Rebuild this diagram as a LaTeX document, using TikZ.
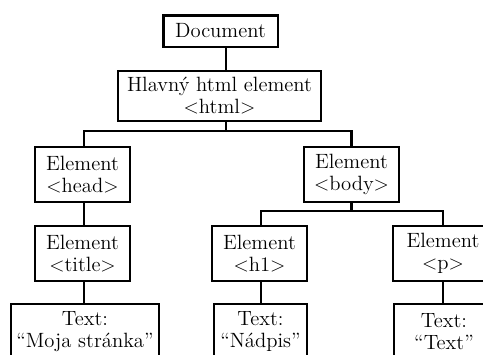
\documentclass[tikz,border=0pt]{standalone}
\begin{document}
\begin{tikzpicture}[x=0.6pt,y=-0.6pt,
  box/.style={draw, line width=1.5pt, align=center, inner sep=0pt,
    font=\fontsize{12.4}{13.2}\selectfont},
  conn/.style={line width=1.5pt}]
\useasboundingbox (0,0) rectangle (483,354);
\clip (0,0) rectangle (483,354);
\node[box, minimum width=114.5*0.6pt, minimum height=31.5*0.6pt] (doc) at (220.5,31) {Document};
\node[box, minimum width=203*0.6pt, minimum height=50*0.6pt] (html) at (219.5,96) {Hlavný html element\\$<$html$>$};
\node[box, minimum width=95*0.6pt, minimum height=55*0.6pt] (head) at (82.5,174.5) {Element\\$<$head$>$};
\node[box, minimum width=95*0.6pt, minimum height=55*0.6pt] (body) at (351.5,174.5) {Element\\$<$body$>$};
\node[box, minimum width=95*0.6pt, minimum height=55*0.6pt] (title) at (82.5,253.5) {Element\\$<$title$>$};
\node[box, minimum width=95*0.6pt, minimum height=55*0.6pt] (h1) at (259.5,253.5) {Element\\$<$h1$>$};
\node[box, minimum width=100*0.6pt, minimum height=55*0.6pt] (p) at (443,253.5) {Element\\$<$p$>$};
\node[box, minimum width=148*0.6pt, minimum height=55*0.6pt] (t1) at (85,331.5) {Text:\\``Moja stránka''};
\node[box, minimum width=93*0.6pt, minimum height=55*0.6pt] (t2) at (260.5,331.5) {Text:\\``Nádpis''};
\node[box, minimum width=100*0.6pt, minimum height=55*0.6pt] (t3) at (444,331.5) {Text:\\``Text''};
\coordinate (bar1) at (0,131);
\coordinate (bar2) at (0,211);
\coordinate (cx) at (226,0);
\draw[conn] (doc.south -| cx) -- (html.north -| cx);
\draw[conn] (html.south -| cx) -- (cx |- bar1);
\draw[conn] ([xshift=0.9pt]head.north) -- ([xshift=0.9pt]head.north |- bar1) -- (body.north |- bar1) -- (body.north);
\draw[conn] ([xshift=0.9pt]head.south) -- ([xshift=0.9pt]title.north);
\draw[conn] ([xshift=0.9pt]title.south) -- ([xshift=0.9pt]t1.north -| title.south);
\draw[conn] (body.south) -- (body.south |- bar2);
\draw[conn] ([xshift=0.9pt]h1.north) -- ([xshift=0.9pt]h1.north |- bar2) -- (p.north |- bar2) -- (p.north);
\draw[conn] ([xshift=0.9pt]h1.south) -- ([xshift=0.9pt]t2.north -| h1.south);
\draw[conn] (p.south) -- (t3.north -| p.south);
\end{tikzpicture}
\end{document}
